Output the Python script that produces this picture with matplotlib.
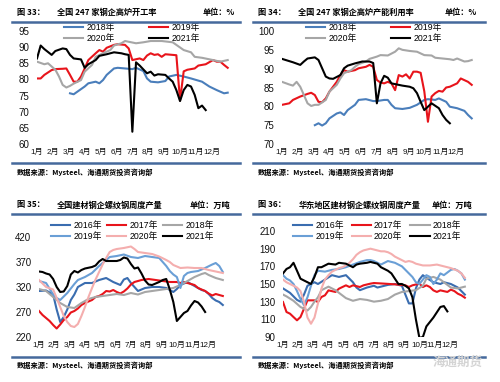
import matplotlib.pyplot as plt
from matplotlib.lines import Line2D

plt.rcParams['font.family'] = ['Liberation Sans', 'Noto Sans CJK SC']

W, H = 500, 382

month_labels = ['1月', '2月', '3月', '4月', '5月', '6月', '7月', '8月', '9月', '10月', '11月', '12月']
month_weeks = [i * 52 / 12 for i in range(12)]

# 图33 全国247家钢企高炉开工率
p1_2018_w = [9, 10, 11, 13, 14, 16, 17, 18, 19, 21, 22, 24, 26, 27, 29, 30, 31, 33, 35, 36, 38, 40, 42, 45, 47, 49, 51, 52]
p1_2018_v = [75.7, 75.4, 76.2, 77.8, 78.8, 79.3, 78.8, 79.8, 81.4, 83.4, 83.6, 83.4, 83.2, 83.6, 82.6, 80.3, 79.3, 79.1,
             79.5, 80.9, 81.4, 80.9, 80.3, 79.3, 77.8, 76.7, 75.7, 75.9]
p1_2019_w = [0, 1, 2, 4, 5, 7, 8, 9, 10, 11, 12, 13, 14, 16, 17, 18, 19, 21, 22, 24, 25, 26, 28, 29, 30, 31, 32, 33, 34,
             35, 37, 38, 39, 40, 41, 43, 44, 45, 46, 48, 49, 50, 51, 52]
p1_2019_v = [80.3, 80.3, 81.4, 82.9, 83.2, 83.3, 83.4, 81.4, 79.3, 79.3, 80.9, 83.4, 86.0, 88.1, 89.1, 88.6, 89.8, 90.7,
             90.9, 90.7, 89.6, 86.0, 86.5, 86.0, 87.4, 88.1, 87.6, 87.8, 87.0, 87.8, 87.6, 87.5, 73.5, 82.5, 83.0, 83.4,
             84.3, 84.5, 84.7, 86.0, 85.5, 85.5, 84.5, 83.6]
p1_2020_w = [0, 2, 3, 5, 6, 7, 8, 9, 10, 12, 13, 15, 16, 18, 20, 21, 23, 24, 27, 29, 31, 34, 37, 40, 42, 43, 45, 48, 50, 52]
p1_2020_v = [85.5, 84.7, 85.0, 83.0, 80.9, 78.3, 77.5, 78.0, 78.7, 79.8, 82.4, 84.5, 87.0, 88.1, 89.1, 90.5, 91.2, 91.9,
             91.2, 91.5, 91.9, 91.9, 91.5, 89.1, 88.4, 87.0, 86.7, 86.0, 85.5, 86.0]
p1_2021_w = [0, 1, 2, 4, 5, 7, 8, 9, 10, 12, 13, 14, 16, 17, 19, 21, 23, 24, 25, 26, 27, 28, 30, 31, 32, 33, 35, 36, 37,
             38, 39, 40, 41, 42, 43, 44, 45, 46]
p1_2021_v = [86.5, 90.5, 89.4, 87.6, 88.8, 89.6, 89.4, 87.6, 86.5, 86.2, 83.6, 84.7, 86.0, 87.3, 87.8, 88.4, 88.1, 87.8,
             87.6, 63.8, 85.3, 84.3, 81.9, 82.4, 81.2, 81.6, 81.4, 80.3, 79.3, 76.7, 73.3, 76.7, 78.3, 77.8, 75.2, 71.1,
             71.9, 70.5]

# 图34 全国247家钢企高炉产能利用率
p2_2018_w = [9, 10, 11, 12, 13, 15, 16, 17, 18, 20, 21, 23, 25, 26, 28, 29, 30, 31, 33, 35, 37, 39, 40, 42, 43, 45, 46,
             48, 50, 51, 52]
p2_2018_v = [75.0, 75.5, 74.9, 75.5, 76.8, 78.1, 78.4, 77.7, 79.0, 80.4, 81.7, 81.9, 81.4, 81.4, 81.7, 81.7, 80.4, 79.5,
             79.3, 79.6, 80.4, 81.7, 81.9, 81.7, 82.1, 81.2, 79.9, 79.5, 78.8, 77.7, 76.8]
p2_2019_w = [0, 2, 3, 5, 7, 8, 9, 10, 11, 12, 13, 15, 16, 17, 18, 20, 21, 23, 24, 25, 26, 27, 28, 29, 30, 31, 32, 33, 34,
             35, 36, 37, 38, 39, 40, 41, 42, 43, 44, 45, 46, 48, 49, 51, 52]
p2_2019_v = [80.4, 80.8, 81.7, 82.6, 83.3, 83.6, 83.0, 81.2, 81.1, 82.1, 83.9, 86.5, 88.3, 89.6, 89.2, 89.6, 90.1, 90.5,
             91.0, 90.5, 87.0, 86.3, 86.1, 86.5, 86.1, 84.3, 88.3, 87.9, 88.5, 87.4, 89.2, 89.2, 88.9, 84.0, 75.9, 82.6,
             83.5, 84.1, 83.9, 85.0, 85.2, 86.1, 87.4, 86.5, 85.7]
p2_2020_w = [0, 2, 3, 4, 5, 6, 7, 8, 9, 10, 12, 13, 15, 16, 17, 19, 20, 21, 23, 24, 26, 27, 29, 31, 32, 33, 35, 37, 39,
             41, 42, 44, 46, 47, 48, 50, 51, 52]
p2_2020_v = [86.5, 85.8, 85.5, 86.5, 85.2, 83.0, 80.8, 80.1, 80.4, 80.4, 81.7, 83.9, 85.7, 87.4, 88.8, 89.6, 90.5, 91.2,
             91.9, 92.6, 93.2, 93.6, 93.5, 94.5, 95.4, 95.0, 94.7, 94.5, 93.6, 93.5, 92.9, 92.7, 92.5, 92.3, 92.7, 91.9,
             92.0, 92.3]
p2_2021_w = [0, 1, 3, 5, 6, 7, 9, 10, 11, 12, 13, 14, 16, 17, 18, 20, 22, 24, 25, 26, 27, 28, 29, 30, 32, 33, 35, 36, 37,
             38, 39, 40, 41, 43, 44, 45, 46]
p2_2021_v = [92.6, 92.3, 91.7, 91.0, 91.9, 92.7, 93.0, 92.3, 90.1, 87.9, 87.4, 87.3, 88.3, 90.1, 90.8, 91.4, 91.9, 91.9,
             91.5, 80.8, 86.1, 88.1, 87.6, 86.1, 85.7, 85.5, 85.2, 84.8, 83.5, 81.2, 79.0, 79.9, 80.8, 79.5, 77.7, 76.4,
             75.5]

# 图35 全国建材钢企螺纹钢周度产量（万吨）
p3_2016_w = [0, 2, 4, 5, 6, 7, 8, 9, 10, 11, 13, 15, 17, 19, 21, 23, 24, 25, 26, 28, 30, 32, 34, 36, 38, 39, 40, 42, 43,
             44, 45, 46, 47, 48, 49, 50, 51, 52]
p3_2016_v = [312, 313, 305, 275, 250, 260, 275, 294, 305, 320, 328, 328, 334, 338, 330, 324, 335, 338, 328, 312, 318, 320,
             320, 318, 310, 316, 324, 330, 326, 322, 318, 314, 312, 306, 298, 293, 290, 284]
p3_2017_w = [0, 1, 2, 3, 4, 5, 6, 7, 8, 9, 10, 11, 12, 13, 14, 15, 16, 17, 18, 19, 20, 21, 22, 23, 24, 25, 26, 27, 28, 29,
             31, 33, 35, 37, 39, 40, 41, 43, 44, 45, 47, 48, 49, 50, 51, 52]
p3_2017_v = [272, 264, 258, 252, 244, 237, 245, 254, 260, 269, 272, 277, 284, 288, 291, 294, 300, 302, 306, 312, 311, 314,
             310, 307, 311, 317, 325, 330, 332, 334, 336, 334, 332, 330, 330, 328, 330, 326, 324, 318, 312, 307, 303, 306,
             304, 302]
p3_2018_w = [0, 2, 4, 6, 8, 10, 12, 14, 16, 18, 20, 22, 24, 26, 28, 30, 32, 34, 36, 38, 40, 42, 44, 46, 47, 48, 50, 52]
p3_2018_v = [316, 312, 300, 288, 280, 278, 288, 296, 300, 302, 304, 306, 304, 308, 305, 310, 312, 314, 316, 318, 324, 332,
             340, 346, 348, 344, 338, 334]
p3_2019_w = [0, 2, 4, 5, 6, 8, 10, 11, 13, 15, 17, 18, 20, 22, 24, 26, 28, 30, 32, 34, 35, 36, 37, 38, 39, 40, 41, 42,
             43, 45, 47, 49, 50, 51, 52]
p3_2019_v = [332, 328, 305, 298, 294, 308, 326, 334, 340, 348, 362, 368, 380, 382, 385, 380, 378, 382, 380, 378, 370, 362,
             352, 345, 340, 318, 342, 348, 350, 352, 358, 365, 368, 362, 350]
p3_2020_w = [0, 2, 4, 5, 6, 7, 8, 9, 10, 11, 12, 13, 14, 15, 16, 17, 18, 19, 20, 21, 22, 24, 26, 27, 28, 30, 32, 34, 36,
             37, 38, 40, 42, 44, 46, 48, 50, 52]
p3_2020_v = [334, 320, 315, 298, 280, 262, 250, 242, 240, 246, 262, 280, 300, 318, 335, 350, 365, 378, 390, 394, 396, 398,
             401, 396, 390, 388, 386, 381, 374, 370, 364, 358, 359, 358, 358, 354, 351, 348]
p3_2021_w = [0, 1, 2, 3, 4, 5, 6, 7, 8, 9, 10, 11, 12, 13, 15, 16, 17, 18, 19, 21, 22, 23, 24, 25, 26, 27, 28, 29, 30,
             31, 32, 33, 34, 35, 36, 37, 38, 39, 40, 41, 42, 43, 44, 45, 46, 47]
p3_2021_v = [351, 350, 347, 345, 336, 320, 310, 311, 322, 345, 352, 349, 354, 357, 360, 363, 371, 376, 372, 372, 372, 374,
             379, 377, 366, 357, 359, 347, 333, 325, 324, 327, 330, 334, 336, 315, 290, 252, 260, 268, 272, 283, 292, 289,
             281, 270]

# 图36 华东地区建材钢企螺纹钢周度产量（万吨）
p4_2016_w = [0, 2, 3, 4, 5, 6, 7, 8, 9, 10, 12, 14, 16, 18, 20, 21, 22, 24, 26, 27, 28, 30, 32, 34, 35, 36, 37, 38, 39,
             40, 41, 43, 45, 46, 48, 50, 51, 52]
p4_2016_v = [145, 140, 136, 132, 130, 138, 148, 150, 152, 150, 155, 160, 158, 160, 152, 146, 143, 146, 148, 146, 147, 149,
             150, 148, 138, 128, 128, 145, 155, 160, 157, 152, 150, 152, 150, 146, 142, 138]
p4_2017_w = [0, 1, 2, 3, 4, 5, 6, 7, 9, 10, 11, 12, 13, 15, 16, 18, 19, 20, 22, 23, 25, 26, 29, 32, 35, 36, 37, 39, 40,
             41, 42, 43, 44, 45, 47, 48, 49, 50, 51, 52]
p4_2017_v = [129.6, 118.3, 116.4, 112.6, 108.9, 112.6, 122.0, 131.5, 131.5, 129.6, 135.3, 137.2, 142.8, 141.0, 144.7,
             148.5, 146.6, 148.5, 146.6, 148.5, 150.4, 151.1, 150.4, 149.6, 148.5, 146.6, 148.5, 150.4, 146.6, 148.5,
             146.6, 142.8, 141.0, 142.8, 141.0, 143.6, 142.0, 139.0, 137.2, 134.5]
p4_2018_w = [0, 1, 3, 5, 7, 8, 9, 10, 11, 13, 15, 17, 18, 20, 22, 24, 26, 28, 30, 32, 34, 36, 38, 40, 41, 43, 45, 46, 48,
             50, 52]
p4_2018_v = [138, 136, 131, 124, 120, 124, 130, 135, 143, 147, 143, 137, 134, 131, 133, 132, 130, 131, 133, 138, 141, 142,
             143, 148, 156, 158, 155, 152, 146, 145, 147]
p4_2019_w = [0, 1, 2, 3, 4, 5, 6, 7, 8, 9, 10, 12, 14, 16, 18, 20, 22, 24, 25, 26, 27, 28, 30, 32, 34, 35, 36, 37, 38,
             39, 40, 41, 42, 43, 44, 45, 46, 47, 48, 49, 50, 51, 52]
p4_2019_v = [160, 156, 154, 150, 142, 133, 126, 135, 148, 160, 165, 164, 166, 167, 169, 172, 175, 177, 177, 176, 174, 172,
             176, 174, 170, 166, 162, 158, 152, 150, 155, 160, 158, 150, 155, 162, 160, 163, 166, 167, 165, 162, 155]
p4_2020_w = [0, 1, 2, 3, 4, 5, 6, 7, 8, 9, 10, 11, 12, 13, 14, 15, 16, 17, 18, 19, 20, 21, 22, 23, 24, 25, 26, 27, 28,
             29, 30, 31, 32, 33, 34, 35, 36, 37, 38, 40, 42, 44, 46, 48, 50, 51, 52]
p4_2020_v = [155, 152, 150, 148, 146, 142, 130, 112, 105, 112, 128, 145, 155, 160, 164, 166, 168, 169, 171, 174, 178, 183,
             186, 188, 189, 190, 189, 188, 187, 187, 186, 184, 181, 179, 177, 175, 176, 175, 173, 171, 171, 172, 170, 168,
             165, 162, 157]
p4_2021_w = [0, 1, 2, 3, 4, 5, 7, 8, 9, 10, 11, 13, 15, 16, 18, 19, 20, 21, 22, 24, 25, 27, 28, 30, 31, 32, 33, 34, 35,
             36, 37, 38, 39, 40, 41, 42, 43, 44, 45, 46, 47]
p4_2021_v = [162, 167, 169, 174, 165, 156, 152, 150, 158, 169, 169, 173, 172, 174, 173, 171, 169, 172, 173, 174, 175, 173,
             169, 165, 162, 156, 150, 150, 148, 145, 135, 110, 89, 90, 102, 107, 112, 118, 124, 125, 119]

BLUE = '#4a7ebb'
RED = '#e8141b'
GRAY = '#a6a6a6'
BLACK = '#000000'
BLUE16 = '#3a6db0'
LBLUE = '#6a9fd6'
PINK = '#f4aeae'
RULE = '#45699c'

fig = plt.figure(figsize=(5, 3.82), dpi=100)


def fx(x):
    return x / W


def fy(y):
    return 1 - y / H


def header(x_no, x_title, x_unit, y, no, title, unit):
    kw = dict(fontsize=5.9, fontweight='bold', family=['Noto Sans CJK SC'], va='center')
    fig.text(fx(x_no), fy(y), no, **kw)
    fig.text(fx(x_title), fy(y), title, **kw)
    fig.text(fx(x_unit), fy(y), unit, **kw)


def rule(x0, x1, y):
    fig.add_artist(Line2D([fx(x0), fx(x1)], [fy(y), fy(y)], color=RULE, lw=1.8))


def source(x, y):
    fig.text(fx(x), fy(y), '数据来源：Mysteel、海通期货投资咨询部', fontsize=5.2, fontweight='bold',
             family=['Noto Sans CJK SC'], va='center')


def panel(left, top, right, bottom, series, ylim, yticks, ncol, leg_x, leg_y, colsp):
    ax = fig.add_axes([fx(left), fy(bottom), (right - left) / W, (bottom - top) / H])
    for w, v, c, lab in series:
        ax.plot(w, v, color=c, lw=1.5, label=lab)
    ax.set_xlim(0, 52.9)
    ax.set_ylim(*ylim)
    ax.set_yticks(yticks)
    ax.set_xticks(month_weeks, month_labels)
    for s in ax.spines.values():
        s.set_visible(False)
    ax.tick_params(axis='y', length=0, pad=5.5, labelsize=7, labelcolor='#111111')
    ax.tick_params(axis='x', length=0, pad=3.5, labelsize=5.8, labelcolor='#111111')
    ax.patch.set_alpha(0)
    h, l = ax.get_legend_handles_labels()
    nrow = len(h) // ncol
    order = [r * ncol + c for c in range(ncol) for r in range(nrow)]
    ax.legend([h[i] for i in order], [l[i] for i in order], ncol=ncol, frameon=False,
              loc='upper left', bbox_to_anchor=(fx(leg_x), fy(leg_y)), bbox_transform=fig.transFigure,
              borderpad=0, borderaxespad=0, fontsize=6.3, handlelength=2.2, handletextpad=0.35,
              columnspacing=colsp, labelspacing=0.25)
    return ax


# panel 1
header(17, 57, 203, 12, '图 33：', '全国 247 家钢企高炉开工率', '单位：%')
rule(12, 240, 22)
panel(37, 31, 231, 144,
      [(p1_2018_w, p1_2018_v, BLUE, '2018年'), (p1_2019_w, p1_2019_v, RED, '2019年'),
       (p1_2020_w, p1_2020_v, GRAY, '2020年'), (p1_2021_w, p1_2021_v, BLACK, '2021年')],
      (60, 95), range(60, 96, 5), 2, 64, 23, 3.9)
rule(12, 240, 163)
source(17, 172)

# panel 2
header(258, 298, 445, 12, '图 34：', '全国 247 家钢企高炉产能利用率', '单位：%')
rule(253, 485, 22)
panel(282, 31, 475, 144,
      [(p2_2018_w, p2_2018_v, BLUE, '2018年'), (p2_2019_w, p2_2019_v, RED, '2019年'),
       (p2_2020_w, p2_2020_v, GRAY, '2020年'), (p2_2021_w, p2_2021_v, BLACK, '2021年')],
      (70, 100), range(70, 101, 5), 2, 306, 23, 3.9)
rule(253, 485, 163)
source(258, 172)

# panel 3
header(17, 57, 190, 205, '图 35：', '全国建材钢企螺纹钢周度产量', '单位：万吨')
rule(12, 240, 214)
panel(39, 237, 226, 337,
      [(p3_2016_w, p3_2016_v, BLUE16, '2016年'), (p3_2017_w, p3_2017_v, RED, '2017年'),
       (p3_2018_w, p3_2018_v, GRAY, '2018年'), (p3_2019_w, p3_2019_v, LBLUE, '2019年'),
       (p3_2020_w, p3_2020_v, PINK, '2020年'), (p3_2021_w, p3_2021_v, BLACK, '2021年')],
      (220, 420), range(220, 421, 50), 3, 51, 221, 0.6)
rule(12, 240, 357)
source(17, 365)

# panel 4
header(258, 299, 432, 205, '图 36：', '华东地区建材钢企螺纹钢周度产量', '单位：万吨')
rule(253, 485, 214)
panel(283, 231, 468, 337,
      [(p4_2016_w, p4_2016_v, BLUE16, '2016年'), (p4_2017_w, p4_2017_v, RED, '2017年'),
       (p4_2018_w, p4_2018_v, GRAY, '2018年'), (p4_2019_w, p4_2019_v, LBLUE, '2019年'),
       (p4_2020_w, p4_2020_v, PINK, '2020年'), (p4_2021_w, p4_2021_v, BLACK, '2021年')],
      (90, 210), range(90, 211, 20), 3, 293, 221, 0.9)
rule(253, 485, 357)
source(258, 365)

fig.text(fx(458), fy(362), '海通期货', fontsize=9, color='#d4d4d4', family=['Noto Sans CJK SC'],
         fontweight='bold', ha='center', va='center')

fig.savefig('out.png', dpi=100)
